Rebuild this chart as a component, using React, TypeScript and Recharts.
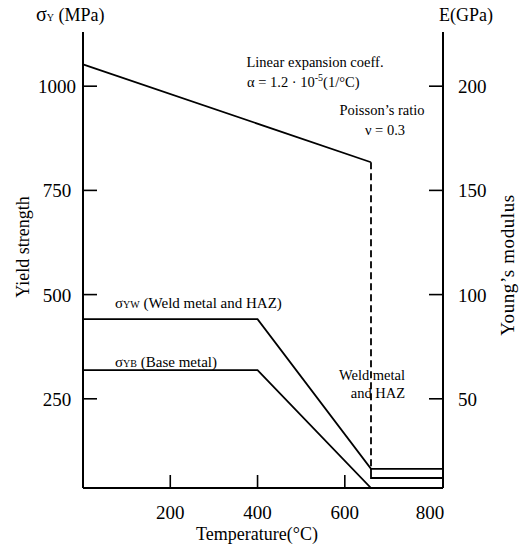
import React from "react";
import { Customized, Line, LineChart, XAxis, YAxis } from "recharts";

// temperatures (°C)
const tempE = [0, 660];
const tempDrop = [660, 660];
const tempEHigh = [660, 660, 825];
const tempYield = [0, 400, 660, 825];

// Young's modulus E (GPa)
const modulusE = [210.5, 163.5];
const modulusDrop = [163.5, 16.3];
const modulusHigh = [16.3, 12, 12];

// yield strength (MPa)
const yieldWeld = [441, 441, 82, 82];
const yieldBase = [319, 319, 36, 36];

const tempTicks = [200, 400, 600, 800];
const yieldTicks = [250, 500, 750, 1000];
const modulusTicks = [50, 100, 150, 200];

const zip = (xs: number[], ys: number[], key: string) =>
  xs.map((t, i) => ({ t, [key]: ys[i] }));

const FONT = "'Liberation Serif', 'DejaVu Serif', serif";

const XTick = (props: any) => {
  const { x, y, payload } = props;
  return (
    <g>
      {payload.value !== 800 && (
        <line x1={x} x2={x} y1={y} y2={y - 13} stroke="#000" strokeWidth={1.6} />
      )}
      <text
        x={payload.value === 800 ? x - 2 : x}
        y={y + 31}
        textAnchor="middle"
        fontSize={19}
        fontFamily={FONT}
        fill="#000"
      >
        {payload.value}
      </text>
    </g>
  );
};

const LeftTick = (props: any) => {
  const { x, y, payload } = props;
  return (
    <g>
      <line x1={x} x2={x + 14} y1={y} y2={y} stroke="#000" strokeWidth={1.6} />
      <text x={x - 26} y={y + 7} textAnchor="middle" fontSize={19} fontFamily={FONT} fill="#000">
        {payload.value}
      </text>
    </g>
  );
};

const RightTick = (props: any) => {
  const { x, y, payload } = props;
  return (
    <g>
      <line x1={x - 14} x2={x} y1={y} y2={y} stroke="#000" strokeWidth={1.6} />
      <text x={x + 15} y={y + 7} textAnchor="start" fontSize={19} fontFamily={FONT} fill="#000">
        {payload.value}
      </text>
    </g>
  );
};

const Notes = () => (
  <g fontFamily={FONT} fill="#000">
    <text x={36} y={21} fontSize={20}>
      σ<tspan fontSize={10}>Y</tspan>
      <tspan fontSize={18}> (MPa)</tspan>
    </text>
    <text x={493} y={21} fontSize={18} textAnchor="end">E(GPa)</text>
    <text x={25} y={247} fontSize={18} textAnchor="middle" transform="rotate(-90 25 247)" dominantBaseline="middle">
      Yield  strength
    </text>
    <text
      x={510}
      y={265}
      fontSize={19}
      letterSpacing={0.6}
      textAnchor="middle"
      transform="rotate(-90 510 265)"
      dominantBaseline="middle"
    >
      Young’s  modulus
    </text>
    <text x={257} y={540} fontSize={18} textAnchor="middle">Temperature(°C)</text>

    <text x={315} y={67} fontSize={14.5} textAnchor="middle">Linear expansion coeff.</text>
    <text x={247} y={87} fontSize={14.5}>
      α = 1.2 · 10<tspan fontSize={10} dy={-6}>-5</tspan>
      <tspan dy={6}>(1/°C)</tspan>
    </text>
    <text x={382} y={115} fontSize={14.5} textAnchor="middle">Poisson’s  ratio</text>
    <text x={385} y={135} fontSize={14.5} textAnchor="middle">ν = 0.3</text>

    <text x={115} y={308} fontSize={15}>
      σ<tspan fontSize={10}>YW</tspan>
      <tspan> (Weld metal and HAZ)</tspan>
    </text>
    <text x={115} y={367} fontSize={15}>
      σ<tspan fontSize={10}>YB</tspan>
      <tspan> (Base metal)</tspan>
    </text>
    <text x={372} y={380} fontSize={14.5} textAnchor="middle">Weld metal</text>
    <text x={378} y={398} fontSize={14.5} textAnchor="middle">and HAZ</text>
  </g>
);

export default function App() {
  const line = {
    type: "linear" as const,
    stroke: "#000",
    strokeWidth: 1.8,
    dot: false,
    isAnimationActive: false,
    dataKey: "v",
  };
  return (
    <div style={{ position: "absolute", left: 0, top: 0, background: "#fff" }}>
      <LineChart
        width={525}
        height={544}
        margin={{ top: 32, right: 42, left: 43, bottom: 26 }}
      >
        <XAxis
          xAxisId="b"
          dataKey="t"
          type="number"
          domain={[0, 825]}
          ticks={tempTicks}
          tick={XTick}
          tickSize={0}
          tickMargin={0}
          tickLine={false}
          height={30}
          axisLine={{ stroke: "#000", strokeWidth: 2 }}
          allowDuplicatedCategory
        />
        <XAxis
          xAxisId="top"
          orientation="top"
          type="number"
          domain={[0, 825]}
          tick={false}
          tickLine={false}
          height={0}
          axisLine={{ stroke: "#000", strokeWidth: 2 }}
        />
        <YAxis
          yAxisId="s"
          type="number"
          domain={[36, 1130]}
          ticks={yieldTicks}
          tick={LeftTick}
          tickSize={0}
          tickMargin={0}
          tickLine={false}
          width={40}
          axisLine={{ stroke: "#000", strokeWidth: 2 }}
          allowDataOverflow
        />
        <YAxis
          yAxisId="e"
          orientation="right"
          type="number"
          domain={[7.2, 226]}
          ticks={modulusTicks}
          tick={RightTick}
          tickSize={0}
          tickMargin={0}
          tickLine={false}
          width={40}
          axisLine={{ stroke: "#000", strokeWidth: 2 }}
          allowDataOverflow
        />
        <Line {...line} xAxisId="b" yAxisId="e" data={zip(tempE, modulusE, "v")} />
        <Line
          {...line}
          xAxisId="b"
          yAxisId="e"
          data={zip(tempDrop, modulusDrop, "v")}
          strokeDasharray="7 4"
        />
        <Line {...line} xAxisId="b" yAxisId="e" data={zip(tempEHigh, modulusHigh, "v")} />
        <Line {...line} xAxisId="b" yAxisId="s" data={zip(tempYield, yieldWeld, "v")} />
        <Line {...line} xAxisId="b" yAxisId="s" data={zip(tempYield, yieldBase, "v")} />
        <Customized component={Notes} />
      </LineChart>
    </div>
  );
}
